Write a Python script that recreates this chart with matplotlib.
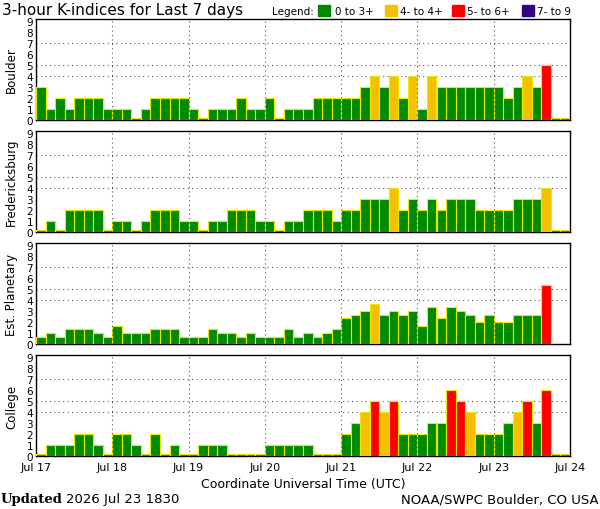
import numpy as np
import matplotlib
matplotlib.use("Agg")
import matplotlib.pyplot as plt

days = ["Jul 17", "Jul 18", "Jul 19", "Jul 20", "Jul 21", "Jul 22", "Jul 23", "Jul 24"]

boulder = [3, 1, 2, 1, 2, 2, 2, 1,
           1, 1, 0, 1, 2, 2, 2, 2,
           1, 0, 1, 1, 1, 2, 1, 1,
           2, 0, 1, 1, 1, 2, 2, 2,
           2, 2, 3, 4, 3, 4, 2, 4,
           1, 4, 3, 3, 3, 3, 3, 3,
           3, 2, 3, 4, 3, 5, 0, 0]

fredericksburg = [0, 1, 0, 2, 2, 2, 2, 0,
                  1, 1, 0, 1, 2, 2, 2, 1,
                  1, 0, 1, 1, 2, 2, 2, 1,
                  1, 0, 1, 1, 2, 2, 2, 1,
                  2, 2, 3, 3, 3, 4, 2, 3,
                  2, 3, 2, 3, 3, 3, 2, 2,
                  2, 2, 3, 3, 3, 4, 0, 0]

planetary = [0.67, 1.00, 0.67, 1.33, 1.33, 1.33, 1.00, 0.67,
             1.67, 1.00, 1.00, 1.00, 1.33, 1.33, 1.33, 0.67,
             0.67, 0.67, 1.33, 1.00, 1.00, 0.67, 1.00, 0.67,
             0.67, 0.67, 1.33, 0.67, 1.00, 0.67, 1.00, 1.33,
             2.33, 2.67, 3.00, 3.67, 2.67, 3.00, 2.67, 3.00,
             1.67, 3.33, 2.33, 3.33, 3.00, 2.67, 2.00, 2.67,
             2.00, 2.00, 2.67, 2.67, 2.67, 5.33, np.nan, np.nan]

college = [0, 1, 1, 1, 2, 2, 1, 0,
           2, 2, 1, 0, 2, 0, 1, 0,
           0, 1, 1, 1, 0, 0, 0, 0,
           1, 1, 1, 1, 1, 0, 0, 0,
           2, 3, 4, 5, 4, 5, 2, 2,
           2, 3, 3, 6, 5, 4, 2, 2,
           2, 3, 4, 5, 3, 6, 0, 0]

stations = ["Boulder", "Fredericksburg", "Est. Planetary", "College"]
series = [boulder, fredericksburg, planetary, college]

legend_labels = ["0 to 3+", "4- to 4+", "5- to 6+", "7- to 9"]
GREEN, YELLOW, RED, PURPLE = "#008a00", "#f5c000", "#ff0000", "#330088"
class_colors = [GREEN, YELLOW, RED, PURPLE]
EDGE = "#e8e800"


def color_for(v):
    if v < 3.5:
        return GREEN
    if v < 4.5:
        return YELLOW
    if v < 6.5:
        return RED
    return PURPLE


W, H = 600, 510
fig = plt.figure(figsize=(W / 100, H / 100), dpi=100)
fig.patch.set_facecolor("white")

left, right = 36, 570
tops = [20, 132, 244, 356]
ph = 101

for i, (name, vals) in enumerate(zip(stations, series)):
    top = tops[i]
    ax = fig.add_axes([left / W, 1 - (top + ph) / H, (right - left) / W, ph / H])
    vals = np.array(vals, dtype=float)
    x = np.arange(len(vals)) * 3
    ok = ~np.isnan(vals)
    heights = np.where(vals[ok] <= 0, 0.15, vals[ok])
    cols = [color_for(v) for v in vals[ok]]
    ax.bar(x[ok], heights, width=3, align="edge", color=cols,
           edgecolor=EDGE, linewidth=0.8, zorder=3)
    ax.set_xlim(0, 168)
    ax.set_ylim(0, 9.2)
    for yv in [4, 5, 7]:
        ax.axhline(yv, color="#555555", linestyle=(0, (1, 3)), linewidth=0.8, zorder=1)
    for xv in range(24, 168, 24):
        ax.axvline(xv, color="#555555", linestyle=(0, (1, 3)), linewidth=0.8, zorder=4)
    ax.set_yticks(range(10))
    ax.set_yticklabels([str(k) for k in range(10)], fontsize=7.5)
    ax.tick_params(axis="y", length=0, pad=2)
    ax.set_xticks(range(0, 169, 24))
    if i == 3:
        ax.set_xticklabels(days, fontsize=8)
        ax.tick_params(axis="x", length=0, pad=4)
    else:
        ax.set_xticklabels([])
        ax.tick_params(axis="x", length=0)
    for sp in ax.spines.values():
        sp.set_color("black")
        sp.set_linewidth(1.0)
    ax.set_ylabel(name, fontsize=8.5, labelpad=6)

fig.text(2 / W, 1 - 11 / H, "3-hour K-indices for Last 7 days", fontsize=11,
         ha="left", va="center")
fig.text(272 / W, 1 - 12 / H, "Legend:", fontsize=7.5, ha="left", va="center")
sq_x = [318, 385, 452, 522]
txt_x = [335, 400, 467, 537]
for sx, tx, c, lab in zip(sq_x, txt_x, class_colors, legend_labels):
    fig.patches.append(plt.Rectangle((sx / W, 1 - 17 / H), 12 / W, 11 / H,
                                     transform=fig.transFigure, color=c))
    fig.text(tx / W, 1 - 12 / H, lab, fontsize=7.5, ha="left", va="center")

fig.text(303 / W, 1 - 485 / H, "Coordinate Universal Time (UTC)", fontsize=9,
         ha="center", va="center")
fig.text(1 / W, 1 - 500 / H, "Updated", fontsize=9.5, fontweight="bold",
         family="DejaVu Serif", ha="left", va="center")
fig.text(66 / W, 1 - 500 / H, "2026 Jul 23 1830", fontsize=9.5, ha="left", va="center")
fig.text(599 / W, 1 - 500 / H, "NOAA/SWPC Boulder, CO USA", fontsize=9.5,
         ha="right", va="center")

fig.savefig("out.png", dpi=100, facecolor="white")
